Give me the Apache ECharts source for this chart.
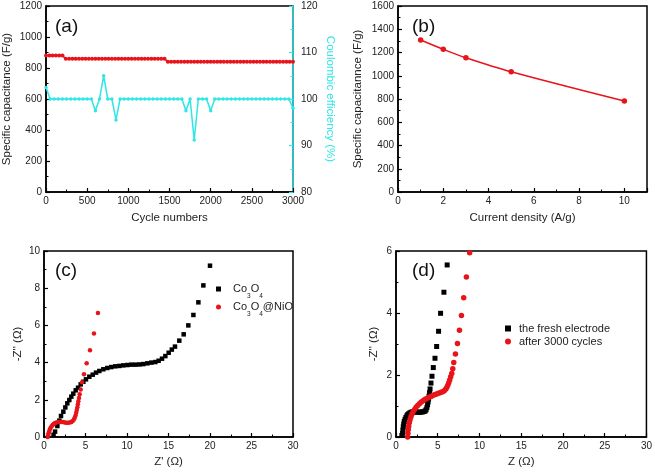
<!DOCTYPE html>
<html><head><meta charset="utf-8">
<script src="https://cdn.jsdelivr.net/npm/echarts@6/dist/echarts.min.js"></script>
<style>html,body{margin:0;padding:0;background:#fff}#c{width:655px;height:473px}</style>
</head><body><div id="c"></div>
<script>
// (a) cycling stability
const capCycles = [0,40,80,120,160,200,240,280,320,360,400,440,480,520,560,600,640,680,720,760,800,840,880,920,960,1000,1040,1080,1120,1160,1200,1240,1280,1320,1360,1400,1440,1480,1520,1560,1600,1640,1680,1720,1760,1800,1840,1880,1920,1960,2000,2040,2080,2120,2160,2200,2240,2280,2320,2360,2400,2440,2480,2520,2560,2600,2640,2680,2720,2760,2800,2840,2880,2920,2960,3000];
const capValues = [880,880,880,880,880,880,
 860,860,860,860,860,860,860,860,860,860,860,860,860,860,860,860,860,860,860,860,860,860,860,860,860,860,860,860,860,860,860,
 840,840,840,840,840,840,840,840,840,840,840,840,840,840,840,840,840,840,840,840,840,840,840,840,840,840,840,840,840,840,840,840,840,840,840,840,840,840,840];
const effCycles = [0,50,100,150,200,250,300,350,400,450,500,550,600,650,700,750,800,850,900,950,1000,1050,1100,1150,1200,1250,1300,1350,1400,1450,1500,1550,1600,1650,1700,1750,1800,1850,1900,1950,2000,2050,2100,2150,2200,2250,2300,2350,2400,2450,2500,2550,2600,2650,2700,2750,2800,2850,2900,2950,3000];
const effValues = [102.5,100,100,100,100,100,100,100,100,100,100,100,97.5,100,105,100,100,95.5,
 100,100,100,100,100,100,100,100,100,100,100,100,100,100,100,100,
 97.5,100,91.2,100,100,100,97.5,
 100,100,100,100,100,100,100,100,100,100,100,100,100,100,100,100,100,100,100,98];
// (b) rate capability
const currentDensity = [1,2,3,5,10];
const rateCap = [1307,1227,1155,1034,782];
// (c) EIS
const co3o4 = [[1.15,0.12],[1.33,0.29],[1.61,0.59],[1.85,0.88],[2.05,1.13],[2.33,1.36],[2.57,1.59],[2.81,1.81],[3.05,1.99],[3.29,2.17],[3.53,2.33],[3.82,2.51],[4.1,2.65],[4.42,2.83],[4.74,2.97],[5.06,3.1],[5.46,3.24],[5.87,3.35],[6.27,3.46],[6.67,3.55],[7.15,3.64],[7.63,3.71],[8.11,3.76],[8.59,3.8],[9.08,3.82],[9.55,3.85],[10.04,3.87],[10.52,3.89],[11.0,3.89],[11.48,3.9],[11.96,3.92],[12.45,3.96],[12.93,4.0],[13.41,4.03],[13.81,4.1],[14.22,4.21],[14.62,4.35],[15.02,4.53],[15.4,4.7],[15.78,4.86],[16.3,5.18],[16.83,5.52],[17.39,6.0],[18.0,6.56],[18.6,7.24],[19.2,8.15],[20.0,9.21]];
const co3o4NiO = [[0.45,0.0],[0.5,0.1],[0.55,0.2],[0.62,0.3],[0.7,0.4],[0.8,0.5],[0.92,0.58],[1.05,0.65],[1.2,0.71],[1.35,0.75],[1.5,0.78],[1.7,0.8],[1.9,0.81],[2.1,0.81],[2.3,0.8],[2.5,0.78],[2.7,0.77],[2.9,0.77],[3.1,0.78],[3.3,0.81],[3.45,0.86],[3.6,0.94],[3.7,1.04],[3.8,1.16],[3.88,1.3],[3.95,1.45],[4.02,1.6],[4.08,1.76],[4.14,1.92],[4.22,2.1],[4.3,2.3],[4.42,2.55],[4.58,2.94],[4.82,3.37],[5.14,3.96],[5.54,4.66],[6.02,5.56],[6.5,6.67]];
// (d) EIS before/after cycling
const freshElectrode = [[0.7,0.05],[0.79,0.12],[0.83,0.22],[0.87,0.33],[0.93,0.42],[0.99,0.5],[1.08,0.57],[1.19,0.63],[1.3,0.68],[1.39,0.72],[1.52,0.75],[1.67,0.78],[1.82,0.8],[1.98,0.81],[2.18,0.81],[2.38,0.81],[2.58,0.8],[2.78,0.8],[2.98,0.8],[3.17,0.81],[3.35,0.82],[3.49,0.84],[3.6,0.88],[3.7,0.95],[3.78,1.04],[3.84,1.13],[3.9,1.22],[3.96,1.32],[4.02,1.43],[4.08,1.55],[4.19,1.74],[4.31,1.96],[4.47,2.24],[4.67,2.54],[4.87,2.92],[5.1,3.41],[5.34,3.99],[5.74,4.67],[6.13,5.55]];
const after3000 = [[1.4,0.0],[1.43,0.12],[1.47,0.24],[1.52,0.35],[1.59,0.46],[1.68,0.56],[1.79,0.65],[1.92,0.74],[2.06,0.82],[2.22,0.89],[2.4,0.96],[2.6,1.02],[2.8,1.07],[3.0,1.12],[3.2,1.16],[3.4,1.2],[3.6,1.23],[3.8,1.26],[4.0,1.29],[4.2,1.31],[4.4,1.34],[4.6,1.36],[4.8,1.38],[5.0,1.4],[5.2,1.42],[5.4,1.44],[5.6,1.46],[5.78,1.49],[5.95,1.54],[6.08,1.6],[6.2,1.67],[6.32,1.75],[6.43,1.84],[6.55,1.94],[6.68,2.05],[6.8,2.2],[6.92,2.4],[7.12,2.68],[7.36,3.02],[7.6,3.44],[7.84,3.92],[8.11,4.49],[8.43,5.16],[8.82,5.94]];

const FONT = "'Liberation Sans', Arial, sans-serif";
const RED = '#e8141a', CYAN = '#30e6e6', TXT = '#222';

function axis(o) {
  const color = o.color || '#000';
  return Object.assign({
    type: 'value',
    nameLocation: 'middle',
    nameTextStyle: { fontFamily: FONT, fontSize: 11.5, color: o.nameColor || TXT },
    axisLine: { show: true, onZero: false, lineStyle: { color: color, width: 1.5 } },
    axisTick: { show: true, inside: true, length: 4, lineStyle: { color: color, width: 1.2 } },
    minorTick: { show: true, splitNumber: 2, length: 2.5, lineStyle: { color: color, width: 1 } },
    splitLine: { show: false },
    axisLabel: { fontFamily: FONT, fontSize: 10, color: TXT, margin: o.margin || 4, showMaxLabel: o.showMax !== false,
      formatter: v => String(v) }
  }, o.extra || {});
}

const chart = echarts.init(document.getElementById('c'));
chart.setOption({
  animation: false,
  backgroundColor: '#fff',
  grid: [
    { left: 44, top: 6, width: 249, height: 186, show: true, borderColor: '#000', borderWidth: 1.5 },
    { left: 398, top: 6, width: 249, height: 186, show: true, borderColor: '#000', borderWidth: 1.5 },
    { left: 44, top: 251, width: 249, height: 186, show: true, borderColor: '#000', borderWidth: 1.5 },
    { left: 396, top: 251, width: 252, height: 186, show: true, borderColor: '#000', borderWidth: 1.5 }
  ],
  xAxis: [
    axis({ extra: { gridIndex: 0, min: 0, max: 3000, interval: 500, name: 'Cycle numbers', nameGap: 20 } }),
    axis({ showMax: false, extra: { gridIndex: 1, min: 0, max: 11, interval: 2, name: 'Current density (A/g)', nameGap: 20 } }),
    axis({ extra: { gridIndex: 2, min: 0, max: 30, interval: 5, name: "Z' (Ω)", nameGap: 19 } }),
    axis({ extra: { gridIndex: 3, min: 0, max: 30, interval: 5, name: 'Z (Ω)', nameGap: 19 } })
  ],
  yAxis: [
    axis({ extra: { gridIndex: 0, min: 0, max: 1200, interval: 200, name: 'Specific capacitance (F/g)', nameGap: 33 } }),
    axis({ color: CYAN, nameColor: CYAN, margin: 8, extra: { gridIndex: 0, position: 'right', min: 80, max: 120, interval: 10, name: 'Coulombic efficiency (%)', nameGap: 31, nameRotate: -90 } }),
    axis({ extra: { gridIndex: 1, min: 0, max: 1600, interval: 200, name: 'Specific capacitannce (F/g)', nameGap: 34 } }),
    axis({ extra: { gridIndex: 2, min: 0, max: 10, interval: 2, name: "-Z'' (Ω)", nameGap: 20 } }),
    axis({ extra: { gridIndex: 3, min: 0, max: 6, interval: 2, name: "-Z'' (Ω)", nameGap: 16 } })
  ],
  legend: [
    {
      data: ['Co3O4', 'Co3O4@NiO'], orient: 'vertical', left: 216, top: 282, padding: 0, itemWidth: 5, itemHeight: 5, itemGap: 0,
      formatter: n => n === 'Co3O4' ? 'Co{s|3}O{s|4}' : 'Co{s|3}O{s|4}@NiO',
      textStyle: { fontFamily: FONT, fontSize: 11, color: TXT, padding: [0, 0, 0, 7], lineHeight: 14,
        rich: { s: { fontFamily: FONT, fontSize: 6.5, color: TXT, lineHeight: 14, verticalAlign: 'bottom', padding: [0, 0, -4, 0] } } }
    },
    {
      data: ['the fresh electrode', 'after 3000 cycles'], orient: 'vertical', left: 505, top: 323, padding: 0, itemWidth: 6, itemHeight: 6, itemGap: 2,
      textStyle: { fontFamily: FONT, fontSize: 11, color: TXT, padding: [0, 0, 0, 3] }
    }
  ],
  graphic: [
    { type: 'text', left: 55, top: 17, style: { text: '(a)', font: "19px 'Liberation Sans', Arial", fill: '#111' } },
    { type: 'text', left: 412, top: 17, style: { text: '(b)', font: "19px 'Liberation Sans', Arial", fill: '#111' } },
    { type: 'text', left: 55, top: 261, style: { text: '(c)', font: "19px 'Liberation Sans', Arial", fill: '#111' } },
    { type: 'text', left: 412, top: 261, style: { text: '(d)', font: "19px 'Liberation Sans', Arial", fill: '#111' } }
  ],
  series: [
    { type: 'line', xAxisIndex: 0, yAxisIndex: 0, data: capCycles.map((c, i) => [c, capValues[i]]),
      symbol: 'circle', symbolSize: 4, lineStyle: { color: RED, width: 1.5 }, itemStyle: { color: RED } },
    { type: 'line', xAxisIndex: 0, yAxisIndex: 1, data: effCycles.map((c, i) => [c, effValues[i]]),
      symbol: 'circle', symbolSize: 3.5, lineStyle: { color: CYAN, width: 1.5 }, itemStyle: { color: CYAN } },
    { type: 'line', xAxisIndex: 1, yAxisIndex: 2, data: currentDensity.map((c, i) => [c, rateCap[i]]), smooth: 0.3,
      symbol: 'circle', symbolSize: 5.5, lineStyle: { color: RED, width: 1.5 }, itemStyle: { color: RED } },
    { name: 'Co3O4', type: 'scatter', xAxisIndex: 2, yAxisIndex: 3, data: co3o4, symbol: 'rect', symbolSize: 4.5, itemStyle: { color: '#000', opacity: 1 } },
    { name: 'Co3O4@NiO', type: 'scatter', xAxisIndex: 2, yAxisIndex: 3, data: co3o4NiO, symbol: 'circle', symbolSize: 4.5, itemStyle: { color: RED, opacity: 1 } },
    { name: 'the fresh electrode', type: 'scatter', xAxisIndex: 3, yAxisIndex: 4, data: freshElectrode, symbol: 'rect', symbolSize: 5, itemStyle: { color: '#000', opacity: 1 } },
    { name: 'after 3000 cycles', type: 'scatter', xAxisIndex: 3, yAxisIndex: 4, data: after3000, symbol: 'circle', symbolSize: 5.5, itemStyle: { color: RED, opacity: 1 } }
  ]
});
</script></body></html>
